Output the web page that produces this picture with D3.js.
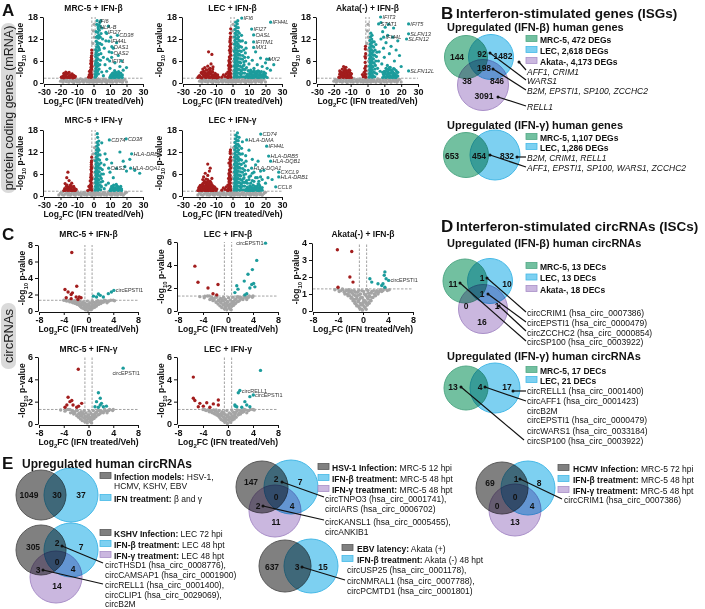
<!DOCTYPE html>
<html><head><meta charset="utf-8">
<script src="https://cdn.jsdelivr.net/npm/d3@7/dist/d3.min.js"></script>
<style>
html,body{margin:0;padding:0;background:#fff;}
svg text{font-family:"Liberation Sans",Arial,Helvetica,sans-serif;}
</style></head>
<body><svg id="fig" width="705" height="609" xmlns="http://www.w3.org/2000/svg"></svg>
<script>
// ---------------- DATA ----------------
const mrnaTitles = ["MRC-5 + IFN-β","LEC + IFN-β","Akata(-) + IFN-β","MRC-5 + IFN-γ","LEC + IFN-γ"];
const circTitles = ["MRC-5 + IFN-β","LEC + IFN-β","Akata(-) + IFN-β","MRC-5 + IFN-γ","LEC + IFN-γ"];
const mrnaXTicks = [-30,-20,-10,0,10,20,30];
const mrnaYTicks = [0,6,12,18];
const circXTicks = [-8,-4,0,4,8];
const c1YTicks = [0,2,4,6,8];
const c2YTicks = [0,2,4,6];
const c3YTicks = [0,1,2,3,4];
const c4YTicks = [0,2,4,6];
const c5YTicks = [0,2,4,6];

const mrnaGrayBeta = [[-20,0.5],[-19,1.0],[-18.5,0.2],[-18,0.7],[-17,1.1],[-16.5,0.4],[-16,0.9],[-15,0.2],[-14.5,0.6],[-14,1.1],[-13,0.4],[-12.5,0.8],[-12,0.1],[-11,0.6],[-10.5,1.0],[-10,0.3],[-9,0.8],[-8.5,0.2],[-8,1.1],[-7,0.5],[-6.5,0.9],[-6,0.2],[-5,0.7],[-4.5,1.1],[-4,0.3],[-3,0.8],[-2.5,0.2],[-2,0.6],[-1.5,1.0],[-1,0.3],[-0.6,0.8],[-0.3,1.5],[0,0.2],[0.3,0.6],[0.6,1.1],[1,0.4],[1.5,0.9],[2,0.2],[2.5,0.7],[3,1.1],[3.5,0.4],[4,0.8],[5,0.2],[5.5,0.6],[6,1.1],[7,0.4],[7.5,0.9],[8,0.1],[9,0.6],[9.5,1.0],[10,0.3],[11,0.8],[11.5,0.2],[12,1.1],[13,0.5],[13.5,0.9],[14,0.2],[15,0.7],[15.5,1.1],[16,0.4],[17,0.9],[17.5,0.2],[18,0.6],[19,1.0],[20,0.3],[-0.5,2.4],[0.4,3.3],[-0.2,4.6],[0.6,6.0],[-0.7,7.5],[0.2,9.0],[-0.4,10.8],[0.5,12.5],[-0.1,14.2],[0.3,16.0]];
const mrnaGrayGamma = [[-21,0.3],[-20,0.8],[-19,0.4],[-18.5,1.1],[-18,0.2],[-17,0.6],[-16,1.0],[-15.5,0.3],[-15,0.8],[-14,0.2],[-13.5,0.6],[-13,1.1],[-12,0.4],[-11.5,0.9],[-11,0.2],[-10,0.7],[-9.5,1.1],[-9,0.4],[-8,0.8],[-7.5,0.1],[-7,0.6],[-6,1.0],[-5.5,0.3],[-5,0.8],[-4,0.2],[-3.5,0.6],[-3,1.1],[-2,0.4],[-1.5,0.8],[-1,0.1],[-0.5,0.6],[0,1.0],[0.4,0.3],[0.8,0.8],[1.2,0.2],[1.8,0.6],[2.4,1.1],[3,0.3],[3.6,0.8],[4.5,0.2],[5,0.6],[6,1.0],[6.5,0.3],[7,0.8],[8,0.2],[8.5,0.6],[9,1.1],[10,0.4],[10.5,0.9],[11,0.2],[12,0.6],[12.5,1.0],[13,0.3],[14,0.8],[14.5,0.2],[15,0.6],[16,1.1],[16.5,0.4],[17,0.8],[18,0.2],[19,0.7],[20,1.0],[-0.6,2.0],[0.5,3.5],[-0.3,5.0],[0.7,6.4],[-0.5,8.0],[0.1,9.8],[-0.2,11.5],[0.6,13.2]];

const a1Down = [[-19,1.5],[-18.5,1.9],[-18,1.4],[-17.5,2.3],[-17,1.7],[-16.5,2.0],[-16,1.5],[-15.5,2.6],[-15,1.8],[-14.5,1.5],[-14,2.2],[-13.5,1.6],[-13,1.9],[-12.5,1.4],[-12,2.1],[-11.5,1.5],[-16.8,3.0],[-14.8,2.9],[-3,1.6],[-2.6,2.2],[-2.2,1.8],[-2,2.8],[-1.8,3.5],[-1.6,2.4],[-1.5,4.2],[-1.4,3.0],[-1.3,5.0],[-1.2,1.7],[-1.1,3.8],[-1.1,5.8],[-1.05,4.5],[-1.05,6.6],[-1.2,7.4],[-1.05,8.2],[-1.1,9.0],[-1.5,6.0],[-2.4,3.2],[-1.7,5.3],[-18,2.6],[-17,2.3],[-16,2.6],[-15,1.5],[-14,1.7],[-13,2.5],[-12,1.5],[-17.5,1.5],[-11,1.8],[-19.5,1.6],[-1.2,2.2],[-1.4,3.6],[-1.3,4.4],[-1.2,5.3],[-1.4,6.3],[-1.3,7.0],[-1.6,1.5],[-1.9,2.0]];
const a1Up = [[1.1,1.6],[1.2,2.4],[1.3,3.2],[1.4,4.0],[1.2,5.0],[1.5,6.0],[1.3,7.2],[1.6,8.3],[1.4,9.1],[1.8,2.0],[2.0,3.0],[2.2,4.4],[2.4,5.5],[2.1,6.8],[2.6,7.6],[2.3,8.8],[2.8,10.0],[2.5,11.0],[3.0,12.2],[3.2,13.0],[3.5,14.4],[4.0,15.5],[4.5,17.0],[3.0,2.5],[3.4,3.8],[3.8,5.0],[4.2,6.2],[3.6,9.0],[4.5,8.0],[5.0,10.5],[5.5,12.0],[6.0,7.0],[6.5,9.5],[7.0,5.0],[7.5,11.5],[8.0,13.5],[8.5,6.5],[9.0,15.5],[9.5,8.5],[10.0,4.0],[10.5,12.5],[11.0,7.0],[12.0,9.5],[13.0,5.5],[14.0,11.0],[15.0,7.5],[16.0,4.5],[17.0,6.0],[18.0,3.5],[20.0,4.2],[5.0,3.0],[6.0,2.0],[8.0,3.2],[2.0,16.0],[1.8,12.5],[1.6,14.0],[10,1.6],[10.5,2.1],[11,1.5],[11.5,2.6],[12,1.8],[12.5,2.3],[13,1.5],[13.5,2.9],[14,2.0],[14.5,1.6],[15,2.4],[15.5,1.5],[16,2.0],[16.5,2.7],[17,1.7],[17.5,2.2],[12.8,3.4],[15.2,3.1],[1.2,1.9],[1.5,2.8],[1.7,3.6],[1.9,4.5],[1.3,5.4],[1.8,6.3],[1.4,7.8],[2.0,8.6],[1.9,9.8],[2.2,10.6],[1.7,11.4],[2.4,12.8],[2.6,13.8],[2.9,14.8],[3.2,15.8],[3.8,16.5],[2.6,3.3],[2.9,4.8],[2.8,6.5],[3.1,7.8],[3.3,9.5],[3.9,10.8],[4.1,12.5],[4.6,13.5],[5.2,15.0],[10.5,1.5],[11.5,1.8],[12.5,1.5],[13.5,1.8],[14.5,2.5],[15.5,2.6],[16.5,1.7],[17.5,1.5],[13,2.4],[11,2.3],[15,1.8],[12,2.8]];
const a1Labels = [["IFI6",2.2,17.0],["HLA-B",2.8,15.3],["IFI27",7.5,13.8],["CD38",14.5,13.0],["IFI44L",9.3,11.4],["OAS1",11.1,9.9],["OAS2",11.1,8.3],["IFIT1",9.8,6.0]];

const a2Down = [[-21,1.5],[-20,2.0],[-19.5,1.6],[-19,2.8],[-18.5,1.4],[-18,2.3],[-17.5,3.2],[-17,1.8],[-16.5,2.6],[-16,1.5],[-15.5,3.6],[-15,2.1],[-14.5,2.9],[-14,1.6],[-13.5,4.0],[-13,2.4],[-12.5,1.7],[-12,3.1],[-11.5,2.0],[-11,1.5],[-10.5,2.6],[-10,1.8],[-9.5,1.4],[-9,2.2],[-8.5,1.6],[-14.5,8.5],[-12.5,7.8],[-13,5.2],[-15,4.6],[-16.8,4.2],[-11.8,4.4],[-18,3.8],[-13.8,3.3],[-12,1.4],[-16,2.0],[-14.8,2.0],[-1.1,1.6],[-1.2,2.6],[-1.3,3.6],[-1.1,4.6],[-1.4,5.6],[-1.2,6.6],[-1.1,7.6],[-1.3,8.6],[-1.2,9.6],[-1.1,10.6],[-1.4,11.6],[-1.2,12.6],[-1.6,2.1],[-1.8,3.1],[-2.0,4.1],[-1.7,5.1],[-2.2,6.1],[-1.9,7.1],[-2.5,2.0],[-2.8,3.0],[-3.2,1.6],[-2.4,4.8],[-1.5,8.2],[-1.6,10.0],[-1.3,13.6],[-1.1,14.8],[-3.8,2.5],[-4.5,1.8],[-5.5,2.2],[-6.5,1.6],[-20.5,1.8],[-19,1.5],[-18.5,2.6],[-17.5,2.0],[-17,2.9],[-16.5,1.6],[-16,2.4],[-15.5,1.7],[-15,2.8],[-14.5,1.6],[-14,2.4],[-13.5,1.5],[-13,3.1],[-12.5,2.3],[-12,1.9],[-11.5,1.6],[-11,2.3],[-10.5,1.5],[-10,2.3],[-9,1.6],[-14,3.8],[-16,3.5],[-18.5,3.0],[-12,3.8],[-1.5,1.9],[-1.7,3.3],[-1.5,4.3],[-1.9,5.5],[-1.6,6.6],[-1.8,8.9],[-1.4,9.3],[-1.6,11.2],[-1.4,12.1],[-2.1,3.8],[-2.3,2.6],[-2.6,1.5]];
const a2Up = [[1.1,1.6],[1.2,2.6],[1.3,3.6],[1.1,4.6],[1.4,5.6],[1.2,6.6],[1.3,7.6],[1.1,8.6],[1.5,9.6],[1.2,10.6],[1.4,11.6],[1.3,12.6],[1.6,13.6],[1.5,14.6],[1.8,15.6],[2.0,16.6],[1.9,2.1],[2.1,3.1],[2.3,4.1],[2.0,5.1],[2.5,6.1],[2.2,7.1],[2.7,8.1],[2.4,9.1],[2.9,10.1],[2.6,11.1],[3.1,12.1],[2.8,13.1],[3.3,14.1],[3.5,15.1],[3.0,1.8],[3.2,2.8],[3.6,3.8],[3.4,4.8],[3.8,5.8],[3.5,6.8],[4.0,7.8],[4.2,8.8],[4.5,10.0],[4.8,11.4],[5.0,2.3],[5.3,3.3],[5.6,4.3],[5.0,5.5],[6.0,6.5],[6.2,7.5],[6.8,9.0],[7.0,1.7],[7.3,2.7],[7.6,3.7],[7.0,5.0],[8.0,6.0],[8.5,4.2],[9.0,2.4],[9.5,7.0],[10.0,5.2],[11.0,3.5],[12.0,6.2],[13.0,4.0],[14.0,8.5],[15.0,5.0],[16.0,3.2],[17.0,6.8],[18.0,4.5],[19.0,3.0],[20.0,5.5],[21.0,4.0],[22.0,6.5],[23.0,3.5],[25.0,5.0],[5.5,13.0],[8.0,11.0],[8,1.5],[9,2.0],[10,1.6],[11,2.4],[12,1.5],[13,2.1],[14,1.7],[15,2.6],[16,1.5],[17,2.2],[18,1.6],[19,2.5],[20,1.8],[12.5,3.0],[15.5,3.3],[10.5,2.8],[17.5,3.1],[14.5,2.0],[11.5,1.8],[18.5,2.0],[21,1.5],[9.5,3.4],[1.3,2.1],[1.5,3.1],[1.7,4.1],[1.6,5.1],[1.8,6.1],[1.7,7.1],[1.9,8.1],[1.8,9.1],[2.1,10.1],[2.0,11.1],[2.3,12.1],[2.2,13.1],[2.5,14.1],[2.6,15.1],[2.9,16.1],[3.2,17.0],[2.6,1.6],[2.9,2.6],[3.0,3.6],[2.8,4.6],[3.1,5.6],[2.9,6.6],[3.3,7.6],[3.1,8.6],[3.6,9.6],[3.4,10.6],[3.9,11.6],[3.7,12.6],[4.1,13.6],[4.3,1.6],[4.5,2.6],[4.4,3.6],[4.7,4.6],[4.5,5.6],[4.9,6.6],[4.7,7.6],[5.3,8.6],[5.5,9.8],[6.0,11.5],[5.8,1.7],[6.1,2.7],[6.3,3.7],[6.6,4.7],[6.9,5.8],[7.4,7.0],[7.8,8.2],[8.2,9.5],[8.5,1.9],[9.5,1.5],[10,2.2],[11,1.5],[11.5,2.5],[12,2.0],[13,1.5],[13.5,2.6],[14,2.2],[15,1.5],[16,2.1],[16.5,2.8],[17,1.6],[18,2.3],[19,1.5],[19.5,2.0],[20,2.6],[13,3.4],[14.5,3.1],[11,3.0]];
const a2Labels = [["IFI6",5.6,17.7],["IFI44L",23.1,16.6],["IFI27",11.6,14.7],["OASL",12.8,13.1],["IFITM1",12.8,11.2],["MX1",12.8,9.7],["MX2",20.7,6.5]];

const a3Down = [[-17,1.6],[-16.5,2.4],[-16,1.8],[-15.5,3.0],[-15,2.0],[-15,3.8],[-14.5,1.5],[-14.5,2.7],[-14,3.3],[-14,1.9],[-13.5,2.3],[-13.5,3.9],[-13,1.6],[-13,2.9],[-12.5,2.0],[-12.5,3.4],[-12,1.5],[-12,2.5],[-11.5,3.0],[-11.5,1.8],[-11,2.2],[-11,3.6],[-10.5,1.6],[-10.5,2.8],[-10,2.0],[-9.5,1.5],[-9.5,2.5],[-16,2.9],[-12.8,4.3],[-14.2,4.5],[-1.1,1.6],[-1.3,2.4],[-1.2,3.4],[-1.1,4.6],[-1.4,5.6],[-1.2,6.8],[-1.1,8.0],[-1.3,9.3],[-1.2,10.0],[-1.7,2.0],[-2.0,2.9],[-1.6,4.0],[-2.5,1.7],[-3.0,2.3],[-1.5,7.2],[-16.5,1.5],[-15.5,1.7],[-15.5,2.5],[-14,2.5],[-13,2.2],[-12,3.2],[-11,1.5],[-10,2.6],[-16.5,3.3],[-10.5,3.4],[-12.5,1.5],[-13.5,3.1]];
const a3Up = [[1.1,1.6],[1.2,2.6],[1.3,3.6],[1.1,4.6],[1.4,5.6],[1.2,6.6],[1.3,7.6],[1.5,8.6],[1.2,9.6],[1.6,10.6],[1.4,11.6],[1.8,12.6],[2.0,13.6],[1.7,2.1],[2.0,3.1],[2.2,4.1],[1.9,5.1],[2.4,6.1],[2.1,7.1],[2.6,8.1],[2.3,9.1],[2.8,10.1],[3.0,11.3],[3.3,2.0],[3.6,3.0],[3.2,4.4],[3.9,5.4],[3.5,6.6],[4.2,7.6],[4.5,9.0],[5.0,10.5],[5.5,2.5],[6.0,4.0],[6.5,6.0],[7.0,8.5],[7.5,3.2],[8.0,12.0],[8.5,5.2],[9.0,14.0],[9.5,9.5],[10.0,7.0],[11.0,11.0],[12.0,13.0],[13.0,8.0],[14.0,10.0],[15.0,12.5],[16.0,6.0],[17.0,9.0],[18.0,11.5],[19.0,7.5],[20.0,4.5],[12.5,16.0],[15.5,15.0],[8.0,16.5],[10.5,15.2],[9,1.5],[9.5,2.3],[10,1.8],[10,3.2],[10.5,2.6],[11,1.5],[11,4.0],[11.5,2.2],[12,3.0],[12,1.7],[12.5,2.5],[13,1.5],[13,3.6],[13.5,2.0],[14,2.8],[14,1.6],[14.5,3.4],[15,2.2],[15,1.5],[15.5,2.7],[16,1.8],[16,3.8],[16.5,2.3],[17,1.5],[17.5,2.9],[18,1.9],[13.5,4.3],[11.8,4.8],[1.5,2.0],[1.7,3.0],[1.6,4.0],[1.8,5.0],[1.7,6.0],[1.9,7.0],[1.8,8.0],[2.0,9.0],[2.2,10.0],[2.4,11.0],[2.5,12.0],[2.7,13.0],[2.8,1.6],[2.7,2.6],[2.9,3.6],[2.8,4.6],[3.0,5.6],[3.1,6.6],[3.3,7.6],[3.4,8.6],[3.7,9.8],[4.0,11.2],[4.3,1.7],[4.5,2.8],[4.4,3.8],[4.7,4.8],[4.9,6.0],[5.3,7.2],[5.6,8.4],[9,2.9],[10.5,1.6],[11,3.2],[12,2.3],[12.5,3.6],[13.5,2.8],[14,3.6],[14.5,1.6],[15,3.0],[16,2.5],[16.5,1.5],[17,3.4],[17.5,2.0],[18,2.9],[10,2.5],[11.5,3.8],[13,4.2],[15.5,3.9]];
const a3Labels = [["IFIT3",7.8,18.0],["STAT1",6.6,16.1],["IFIT5",24.4,16.1],["IFI44L",9.6,12.5],["SLFN13",24.4,13.4],["SLFN12",23.2,12.0],["SLFN12L",24.4,3.3]];

const a4Down = [[-18,1.5],[-17.5,2.0],[-17,1.6],[-16.5,2.6],[-16,1.8],[-15.5,1.5],[-15,2.3],[-14.5,1.7],[-14,3.0],[-13.5,1.9],[-13,1.5],[-12.5,2.4],[-12,1.7],[-11.5,2.1],[-11,1.5],[-10.5,1.8],[-15.5,6.5],[-16.2,5.0],[-14.8,4.2],[-17.2,3.4],[-13.2,3.5],[-1.1,1.6],[-1.2,2.6],[-1.3,3.6],[-1.1,4.6],[-1.4,5.6],[-1.2,6.6],[-1.1,7.6],[-1.3,8.6],[-1.2,9.6],[-1.1,10.6],[-1.6,2.1],[-1.8,3.1],[-2.0,4.1],[-1.7,5.1],[-2.3,1.8],[-2.8,2.6],[-3.5,1.5],[-1.5,7.2],[-17.5,1.5],[-16.5,1.7],[-15.5,2.4],[-14.5,2.5],[-13.5,2.6],[-12.5,1.6],[-11.5,1.5],[-16,3.0],[-12,2.6],[-14,1.5],[-1.5,1.8],[-1.4,3.0],[-1.6,4.2],[-1.3,5.0],[-1.5,6.0],[-1.4,8.0],[-1.3,9.2],[-1.9,2.5]];
const a4Up = [[1.1,1.6],[1.2,2.6],[1.3,3.6],[1.1,4.6],[1.4,5.6],[1.2,6.6],[1.3,7.6],[1.5,8.6],[1.2,9.6],[1.6,10.6],[1.4,11.6],[1.8,12.6],[2.0,13.6],[2.2,14.6],[2.5,16.0],[2.3,17.0],[1.7,2.1],[2.0,3.1],[2.2,4.1],[1.9,5.1],[2.4,6.1],[2.1,7.1],[2.6,8.1],[2.3,9.1],[2.8,10.1],[3.0,11.3],[3.3,12.5],[3.3,2.0],[3.6,3.0],[3.2,4.4],[3.9,5.4],[3.5,6.6],[4.2,7.6],[4.5,9.0],[4.8,2.5],[5.5,4.0],[6.0,6.0],[6.5,8.5],[7.0,11.5],[5.0,14.5],[8.0,10.0],[9.0,3.5],[10.0,6.5],[11.0,9.0],[12.0,5.0],[14.0,7.5],[16.0,12.0],[18.0,9.5],[19.0,8.0],[20.0,6.8],[22.0,10.0],[25.0,7.0],[28.0,6.2],[6.5,2.0],[7.5,3.0],[10,1.5],[10.5,2.0],[11,1.6],[11.5,2.5],[12,1.8],[12.5,1.5],[13,2.2],[13.5,1.7],[14,2.8],[14.5,1.9],[15,1.5],[15.5,2.3],[16,1.7],[16.5,2.6],[17,1.5],[13.8,3.2],[12.2,3.0],[1.5,2.0],[1.7,3.0],[1.6,4.0],[1.8,5.0],[1.7,6.0],[1.9,7.0],[1.8,8.0],[2.0,9.0],[2.2,10.0],[2.4,11.0],[2.5,12.0],[2.7,13.0],[2.9,14.0],[3.2,15.0],[2.8,1.6],[2.7,2.6],[2.9,3.6],[2.8,4.6],[3.0,5.6],[3.1,6.6],[3.3,7.6],[3.4,8.6],[3.7,9.8],[4.0,11.2],[4.3,1.7],[4.5,2.8],[4.4,3.8],[4.7,4.8],[4.9,6.0],[5.3,7.2],[10.5,1.6],[11.5,1.8],[12.5,2.2],[13,1.6],[14,1.9],[15,2.4],[16,2.3],[17,1.9],[11,2.6],[14.5,2.6]];
const a4Labels = [["CD74",9.6,15.3],["CD38",19.8,15.6],["HLA-DRB5",23.1,11.5],["OAS2",9.2,7.6],["HLA-DQA1",22.5,7.6]];

const a5Down = [[-21,1.5],[-20.5,2.2],[-20,1.7],[-19.5,2.9],[-19,1.5],[-18.5,2.4],[-18,3.4],[-18,1.8],[-17.5,2.7],[-17,1.5],[-17,4.0],[-16.5,2.1],[-16,3.0],[-16,1.6],[-15.5,3.7],[-15.5,2.4],[-15,1.8],[-15,4.5],[-14.5,2.8],[-14.5,1.5],[-14,3.4],[-14,2.1],[-13.5,1.7],[-13.5,4.0],[-13,2.6],[-13,1.5],[-12.5,3.1],[-12,2.0],[-12,1.5],[-11.5,2.5],[-11,1.7],[-10.5,2.2],[-10,1.5],[-9.5,1.9],[-15,5.6],[-14,6.8],[-16.5,6.2],[-15,8.7],[-13.5,7.6],[-17.5,5.2],[-12.5,4.8],[-1.1,1.6],[-1.2,2.6],[-1.3,3.6],[-1.1,4.6],[-1.4,5.6],[-1.2,6.6],[-1.1,7.6],[-1.3,8.6],[-1.2,9.6],[-1.1,10.6],[-1.4,11.6],[-1.2,12.6],[-1.6,2.1],[-1.8,3.1],[-2.0,4.1],[-1.7,5.1],[-2.2,6.1],[-1.9,7.1],[-2.5,2.0],[-2.8,3.0],[-3.2,1.6],[-2.4,4.8],[-1.5,8.2],[-1.6,10.0],[-3.8,2.5],[-4.5,1.8],[-5.5,2.2],[-6.5,1.6],[-2.2,9.0],[-20.5,1.5],[-20,2.5],[-19.5,2.0],[-19,2.4],[-18.5,1.5],[-18.5,3.0],[-17.5,1.8],[-17.5,3.5],[-17,2.5],[-16.5,1.6],[-16.5,3.5],[-16,2.3],[-15.5,1.5],[-15,2.5],[-15,3.3],[-14.5,2.2],[-14.5,4.0],[-14,1.6],[-14,2.8],[-13.5,2.3],[-13.5,3.2],[-13,2.0],[-13,3.6],[-12.5,1.7],[-12.5,2.5],[-12,2.8],[-11.5,1.5],[-11,2.5],[-16,4.6],[-18,4.5],[-1.5,1.9],[-1.7,3.3],[-1.5,4.3],[-1.9,5.5],[-1.6,6.6],[-1.4,9.3],[-1.4,12.1],[-2.1,3.8],[-2.3,2.6],[-2.6,1.5]];
const a5Up = [[1.1,1.6],[1.2,2.6],[1.3,3.6],[1.1,4.6],[1.4,5.6],[1.2,6.6],[1.3,7.6],[1.1,8.6],[1.5,9.6],[1.2,10.6],[1.4,11.6],[1.3,12.6],[1.6,13.6],[1.5,14.6],[1.8,15.6],[2.0,16.6],[1.9,2.1],[2.1,3.1],[2.3,4.1],[2.0,5.1],[2.5,6.1],[2.2,7.1],[2.7,8.1],[2.4,9.1],[2.9,10.1],[2.6,11.1],[3.1,12.1],[2.8,13.1],[3.3,14.1],[3.5,15.1],[3.0,1.8],[3.2,2.8],[3.6,3.8],[3.4,4.8],[3.8,5.8],[3.5,6.8],[4.0,7.8],[4.2,8.8],[4.5,10.0],[4.8,11.4],[5.0,2.3],[5.3,3.3],[5.6,4.3],[5.0,5.5],[6.0,6.5],[6.2,7.5],[6.8,9.0],[7.0,1.7],[7.3,2.7],[7.6,3.7],[7.0,5.0],[8.0,6.0],[8.5,4.2],[9.0,2.4],[9.5,7.0],[10.0,5.2],[11.0,3.5],[12.0,6.2],[13.0,4.0],[14.0,8.5],[15.0,5.0],[16.0,3.2],[17.0,6.8],[18.0,4.5],[5.5,13.0],[8.0,11.0],[4.0,16.0],[6.0,14.8],[10.0,12.5],[12.0,10.0],[15.5,9.5],[19.0,7.0],[21.5,5.0],[8,1.5],[9,2.0],[10,1.6],[11,2.4],[12,1.5],[13,2.1],[14,1.7],[15,2.6],[16,1.5],[17,2.2],[18,1.6],[12.5,3.0],[15.5,3.3],[10.5,2.8],[14.5,2.0],[11.5,1.8],[1.3,2.1],[1.5,3.1],[1.7,4.1],[1.6,5.1],[1.8,6.1],[1.7,7.1],[1.9,8.1],[1.8,9.1],[2.1,10.1],[2.0,11.1],[2.3,12.1],[2.2,13.1],[2.5,14.1],[2.6,15.1],[2.9,16.1],[3.0,17.2],[2.6,1.6],[2.9,2.6],[3.0,3.6],[2.8,4.6],[3.1,5.6],[2.9,6.6],[3.3,7.6],[3.1,8.6],[3.6,9.6],[3.4,10.6],[3.9,11.6],[3.7,12.6],[4.1,13.6],[4.3,1.6],[4.5,2.6],[4.4,3.6],[4.7,4.6],[4.5,5.6],[4.9,6.6],[4.7,7.6],[5.3,8.6],[5.5,9.8],[6.0,11.5],[5.8,1.7],[6.1,2.7],[6.3,3.7],[6.6,4.7],[6.9,5.8],[7.4,7.0],[7.8,8.2],[8.2,9.5],[9,3.5],[10,4.5],[11,5.5],[12,4.2],[13,6.5],[14,5.0],[16,4.0],[17,5.2],[20,3.5],[24,4.5],[8.5,1.9],[9.5,1.5],[10,2.2],[11,1.5],[11.5,2.5],[12,2.0],[13,1.5],[13.5,2.6],[14,2.2],[15,1.5],[16,2.1],[16.5,2.8],[17,1.6],[18,2.3]];
const a5Labels = [["CD74",17.1,16.9],["HLA-DMA",8.6,15.3],["IFI44L",20.7,13.6],["HLA-DRB5",21.9,10.9],["HLA-DQB1",23.1,9.5],["HLA-DQA1",11.6,7.6],["CXCL9",28.0,6.5],["HLA-DRB1",28.0,5.2],["CCL8",26.2,2.5]];

const circGray1 = [[-4,1.3],[-3.5,1.2],[-3.2,1.25],[-3,1.1],[-2.7,1.2],[-2.5,1.0],[-2.3,1.25],[-2.1,0.9],[-2,1.15],[-1.8,0.8],[-1.7,1.05],[-1.5,0.7],[-1.4,1.2],[-1.3,0.55],[-1.2,0.9],[-1.1,0.4],[-1,0.75],[-0.9,1.1],[-0.8,0.3],[-0.7,0.6],[-0.6,0.95],[-0.5,0.15],[-0.4,0.45],[-0.3,0.8],[-0.2,1.2],[-0.1,0.05],[0,0.35],[0.1,0.65],[0.2,1.0],[0.3,0.2],[0.4,0.5],[0.5,0.9],[0.6,1.25],[0.7,0.35],[0.8,0.7],[0.9,1.05],[1,0.45],[1.1,0.85],[1.3,0.6],[1.4,1.15],[1.6,0.8],[1.8,1.0],[2,0.9],[2.2,1.2],[2.5,1.1],[2.8,1.25],[3.2,1.2],[3.6,1.3],[4.2,1.25]];
const circGray2 = [[-4.5,1.25],[-3.8,1.15],[-3.3,1.3],[-2.9,1.0],[-2.6,1.2],[-2.4,0.9],[-2.2,1.1],[-1.9,0.75],[-1.8,1.2],[-1.6,0.6],[-1.5,0.95],[-1.3,0.45],[-1.2,1.1],[-1.1,0.7],[-1.0,0.3],[-0.9,0.9],[-0.8,0.55],[-0.7,1.2],[-0.6,0.2],[-0.5,0.7],[-0.4,1.0],[-0.3,0.35],[-0.2,0.1],[-0.1,0.8],[0,0.5],[0.1,1.15],[0.2,0.25],[0.3,0.6],[0.4,0.95],[0.5,0.1],[0.6,0.4],[0.7,0.8],[0.8,1.2],[0.9,0.5],[1,0.9],[1.2,0.65],[1.3,1.05],[1.5,0.8],[1.7,1.2],[1.9,0.95],[2.1,1.1],[2.4,1.0],[2.7,1.2],[3.0,1.15],[3.4,1.3],[3.9,1.2]];
const circGray3 = [[-3.7,1.28],[-3.0,1.3],[-2.6,1.05],[-2.2,0.95],[-1.9,1.25],[-1.6,0.9],[-1.3,0.8],[-1.0,1.0],[-0.8,0.9],[-0.6,0.5],[-0.4,0.25],[-0.2,0.6],[0,0.8],[0.2,0.45],[0.4,0.15],[0.6,0.7],[0.8,0.5],[1.0,0.7],[1.2,1.0],[1.5,1.25],[1.7,0.85],[2.0,1.2],[2.3,1.05],[2.6,1.3],[3.0,1.0],[3.3,1.2],[4.0,1.3]];
const c1Down = [[-3.8,2.6],[-3.3,2.3],[-2.8,2.0],[-1.9,3.0],[-2.6,2.2],[-3.6,1.6],[-2.8,1.5],[-2.0,1.7],[-1.7,1.4],[-1.5,1.7],[-1.2,1.6],[-2.7,7.1]];
const c1Up = [[0.8,1.8],[1.3,1.7],[1.6,2.06],[1.9,1.9],[2.4,1.7],[3.2,2.1],[3.7,2.3]];
const c1Labels = [["circEPSTI1",4.1,2.5]];
const c2Down = [[-5.3,3.9],[-4.8,2.5],[-3.2,2.0],[-1.6,2.3],[-2.4,1.5],[-1.8,1.4]];
const c2Up = [[1.1,1.6],[1.6,1.9],[2.7,1.4],[3.0,1.5],[3.5,2.0],[3.8,2.3],[4.1,2.4],[4.3,2.1],[3.2,3.2],[3.9,3.6],[4.6,4.4],[2.6,2.6],[1.4,2.2]];
const c2Labels = [["circEPSTI1",6.0,5.9]];
const c3Down = [[-4.0,1.4],[-2.1,2.0],[-1.6,1.7],[-4.1,3.6],[-1.8,3.5]];
const c3Up = [[1.1,1.9],[1.4,1.7],[2.4,1.6],[3.0,1.5],[3.2,1.6],[3.5,1.4],[3.7,1.9],[3.4,2.1],[3.5,2.3]];
const c3Labels = [["circEPSTI1",4.1,1.8]];
const c4Down = [[-1.65,4.9],[-3.3,2.4],[-2.7,2.1],[-3.5,1.7],[-2.5,1.7],[-1.6,1.6],[-1.1,1.85],[-3.0,2.0],[-1.9,1.5],[-3.8,1.5]];
const c4Up = [[1.6,2.8],[1.9,2.3],[1.3,2.0],[2.1,1.85],[1.05,1.55],[1.6,1.5],[2.4,1.55],[2.9,1.6],[1.9,1.7]];
const c4Labels = [["circEPSTI1",5.6,5.0]];
const c5Down = [[-5.55,4.2],[-5.55,2.3],[-5.3,2.1],[-4.5,1.85],[-3.4,1.9],[-2.35,1.8],[-1.55,1.7],[-3.95,1.6],[-4.75,1.55],[-2.9,1.5],[-1.55,2.15]];
const c5Up = [[5.2,4.8],[3.5,2.45],[2.7,2.0],[3.0,1.7],[1.1,1.7],[1.4,1.55],[3.5,1.55],[2.2,1.5],[1.65,2.8],[1.2,1.6]];
const c5Labels = [["circRELL1",1.9,3.0],["circEPSTI1",4.05,2.6]];

// Venn data
const bBetaLegend = ["MRC-5, 472 DEGs","LEC, 2,618 DEGs","Akata-, 4,173 DEGs"];
const bBetaCounts = [144,92,1482,198,38,846,3091];
const bBetaGenes = ["AFF1, CRIM1","WARS1","B2M, EPSTI1, SP100, ZCCHC2","RELL1"];
const bGammaLegend = ["MRC-5, 1,107 DEGs","LEC, 1,286 DEGs"];
const bGammaCounts = [653,454,832];
const bGammaGenes = ["B2M, CRIM1, RELL1","AFF1, EPSTI1, SP100, WARS1, ZCCHC2"];
const dBetaLegend = ["MRC-5, 13 DECs","LEC, 13 DECs","Akata-, 18 DECs"];
const dBetaCounts = [11,1,10,1,0,1,16];
const dBetaCircs = ["circCRIM1 (hsa_circ_0007386)","circEPSTI1 (hsa_circ_0000479)","circZCCHC2 (hsa_circ_0000854)","circSP100 (hsa_circ_0003922)"];
const dGammaLegend = ["MRC-5, 17 DECs","LEC, 21 DECs"];
const dGammaCounts = [13,4,17];
const dGammaCircs = ["circRELL1 (hsa_circ_0001400)","circAFF1 (hsa_circ_0001423)","circB2M","circEPSTI1 (hsa_circ_0000479)","circWARS1 (hsa_circ_0033184)","circSP100 (hsa_circ_0003922)"];
const e1Legend = [["Infection models:"," HSV-1,"],[""," HCMV, KSHV, EBV"],["IFN treatment:"," β and γ"]];
const e1Counts = [1049,30,37];
const e2Legend = [["KSHV Infection:"," LEC 72 hpi"],["IFN-β treatment:"," LEC 48 hpt"],["IFN-γ treatment:"," LEC 48 hpt"]];
const e2Counts = [305,2,7,0,3,4,14];
const e2Circs = ["circTHSD1 (hsa_circ_0008776),","circCAMSAP1 (hsa_circ_0001900)","circRELL1 (hsa_circ_0001400),","circCLIP1 (hsa_circ_0029069),","circB2M"];
const e3Legend = [["HSV-1 Infection:"," MRC-5 12 hpi"],["IFN-β treatment:"," MRC-5 48 hpt"],["IFN-γ treatment:"," MRC-5 48 hpt"]];
const e3Counts = [147,2,7,0,2,4,11];
const e3Circs = ["circTNPO3 (hsa_circ_0001741),","circIARS (hsa_circ_0006702)","circKANSL1 (hsa_circ_0005455),","circANKIB1"];
const e4Legend = [["EBV latency:"," Akata (+)"],["IFN-β treatment:"," Akata (-) 48 hpt"]];
const e4Counts = [637,3,15];
const e4Circs = ["circUSP25 (hsa_circ_0001178),","circNMRAL1 (hsa_circ_0007788),","circPCMTD1 (hsa_circ_0001801)"];
const e5Legend = [["HCMV Infection:"," MRC-5 72 hpi"],["IFN-β treatment:"," MRC-5 48 hpt"],["IFN-γ treatment:"," MRC-5 48 hpt"]];
const e5Counts = [69,1,8,0,0,4,13];
const e5Circs = ["circCRIM1 (hsa_circ_0007386)"];

// ---------------- DRAWING ----------------
const svg = d3.select('#fig');
const F = '"Liberation Sans",Arial,Helvetica,sans-serif';
const PT = {up:'#1c9c9c', down:'#a21d1d', gray:'#a5a5a5'};
const VC = {
  green:{f:'#72c0a0',s:'#52a886'},
  blue:{f:'#7dd0f1',s:'#45b8e6'},
  purple:{f:'#cab7df',s:'#a98fc8'},
  gray:{f:'#808080',s:'#595959'}
};

function txt(x,y,s,o={}){
  const t = svg.append('text').attr('x',x).attr('y',y).text(s)
    .attr('font-size',o.size||9).attr('fill',o.fill||'#111');
  if(o.bold) t.attr('font-weight','bold');
  if(o.italic) t.attr('font-style','italic');
  if(o.anchor) t.attr('text-anchor',o.anchor);
  return t;
}
function rich(x,y,parts,size){
  const t = svg.append('text').attr('x',x).attr('y',y).attr('font-size',size).attr('fill','#111');
  parts.forEach(p=>{ const s=t.append('tspan').text(p[0]); if(p[1]) s.attr('font-weight','bold'); });
  return t;
}

function volcano(c){
  const g = svg.append('g');
  const x = d3.scaleLinear().domain(c.xd).range(c.xr);
  const y = d3.scaleLinear().domain(c.yd).range(c.yr);
  const dash = g.append('g').attr('stroke','#8c8c8c').attr('stroke-width',0.8).attr('stroke-dasharray','2.5,1.5');
  dash.append('line').attr('x1',x(c.xd[0])).attr('x2',x(c.xd[1])).attr('y1',y(1.3)).attr('y2',y(1.3));
  [-c.fc,c.fc].forEach(v=>dash.append('line').attr('x1',x(v)).attr('x2',x(v)).attr('y1',y(c.yd[0])).attr('y2',y(c.yd[1])));
  const pts=(arr,col)=>g.append('g').selectAll('circle').data(arr).join('circle')
    .attr('cx',d=>x(d[0])).attr('cy',d=>y(d[1])).attr('r',c.r).attr('fill',col);
  pts(c.gray,PT.gray); pts(c.down,PT.down); pts(c.up,PT.up);
  pts(c.labels.map(l=>[l[1],l[2]]),PT.up);
  c.labels.forEach((l,i)=>{
    const side = (c.side && c.side[i]) || 'R';
    const px=x(l[1]), py=y(l[2]);
    let t;
    if(side==='R') t=g.append('text').attr('x',px+1.8).attr('y',py+2);
    else if(side==='L') t=g.append('text').attr('x',px-1.8).attr('y',py+2).attr('text-anchor','end');
    else t=g.append('text').attr('x',px+3).attr('y',py+7).attr('text-anchor','middle');
    t.text(l[0]).attr('font-size',c.lsize).attr('fill','#333').attr('font-style',c.italic?'italic':'normal');
  });
  const ya = g.append('g').attr('transform',`translate(${c.xr[0]-1},0)`)
    .call(d3.axisLeft(y).tickValues(c.yt).tickSize(3).tickSizeOuter(0).tickPadding(2).tickFormat(d=>String(d)));
  const xa = g.append('g').attr('transform',`translate(0,${c.yr[0]+1})`)
    .call(d3.axisBottom(x).tickValues(c.xt).tickSize(3).tickSizeOuter(0).tickPadding(1.5).tickFormat(d=>String(d)));
  [ya,xa].forEach(a=>{
    a.selectAll('text').attr('font-size',9).attr('font-weight','bold').attr('font-family',F).attr('fill','#111');
    a.selectAll('path,line').attr('stroke','#111').attr('stroke-width',1);
  });
  const mx=(c.xr[0]+c.xr[1])/2, my=(c.yr[0]+c.yr[1])/2;
  txt(mx,c.titleY,c.title,{size:8.5,bold:true,anchor:'middle'});
  const yl = g.append('text').attr('transform',`translate(${c.ylx},${my}) rotate(-90)`)
    .attr('text-anchor','middle').attr('font-size',8.5).attr('font-weight','bold').attr('fill','#111');
  yl.append('tspan').text('-log');
  yl.append('tspan').text('10').attr('font-size',6).attr('dy',2.5);
  yl.append('tspan').text(' p-value').attr('dy',-2.5);
  const xl = g.append('text').attr('x',mx).attr('y',c.yr[0]+21).attr('text-anchor','middle')
    .attr('font-size',8.5).attr('font-weight','bold').attr('fill','#111');
  xl.append('tspan').text('Log');
  xl.append('tspan').text('2').attr('font-size',6).attr('dy',2.5);
  xl.append('tspan').text('FC (IFN treated/Veh)').attr('dy',-2.5);
}

const mBase = {xd:[-30,30], yd:[0,18], xt:mrnaXTicks, yt:mrnaYTicks, fc:1, r:1.6, lsize:5.6, italic:true};
volcano({...mBase, title:mrnaTitles[0], gray:mrnaGrayBeta, down:a1Down, up:a1Up, labels:a1Labels, xr:[44,143], yr:[83,17], titleY:11, ylx:23});
volcano({...mBase, title:mrnaTitles[1], gray:mrnaGrayBeta, down:a2Down, up:a2Up, labels:a2Labels, xr:[183,282], yr:[83,17], titleY:11, ylx:162});
volcano({...mBase, title:mrnaTitles[2], gray:mrnaGrayBeta, down:a3Down, up:a3Up, labels:a3Labels, xr:[317,418], yr:[83,17], titleY:11, ylx:297});
volcano({...mBase, title:mrnaTitles[3], gray:mrnaGrayGamma, down:a4Down, up:a4Up, labels:a4Labels, xr:[44,143], yr:[196,130], titleY:123, ylx:23});
volcano({...mBase, title:mrnaTitles[4], gray:mrnaGrayGamma, down:a5Down, up:a5Up, labels:a5Labels, xr:[183,282], yr:[196,130], titleY:123, ylx:162});

const cBase = {xd:[-8,8], xt:circXTicks, fc:0.58, r:1.7, lsize:5.5, italic:false};
volcano({...cBase, title:circTitles[0], yd:[0,8], yt:c1YTicks, gray:circGray1.concat(circGray3), down:c1Down, up:c1Up, labels:c1Labels, xr:[39,138], yr:[311,245], titleY:237, ylx:25});
volcano({...cBase, title:circTitles[1], yd:[0,6], yt:c2YTicks, gray:circGray2.concat(circGray3), down:c2Down, up:c2Up, labels:c2Labels, side:['L'], xr:[178,278], yr:[311,242], titleY:237, ylx:164});
volcano({...cBase, title:circTitles[2], yd:[0,4], yt:c3YTicks, gray:circGray1.concat(circGray2), down:c3Down, up:c3Up, labels:c3Labels, xr:[313,413], yr:[311,243], titleY:237, ylx:299});
volcano({...cBase, title:circTitles[3], yd:[0,6], yt:c4YTicks, gray:circGray2.concat(circGray3), down:c4Down, up:c4Up, labels:c4Labels, side:['B'], xr:[39,138], yr:[424,357], titleY:352, ylx:25});
volcano({...cBase, title:circTitles[4], yd:[0,6], yt:c5YTicks, gray:circGray1.concat(circGray3), down:c5Down, up:c5Up, labels:c5Labels, xr:[178,278], yr:[424,357], titleY:352, ylx:164});

// side labels
function sideLabel(cy,h,s,fs){
  svg.append('rect').attr('x',1).attr('y',cy-h/2).attr('width',15).attr('height',h).attr('rx',7).attr('fill','#dadada');
  svg.append('text').attr('transform',`translate(13,${cy}) rotate(-90)`).attr('text-anchor','middle')
    .attr('font-size',fs).attr('fill','#222').text(s);
}
sideLabel(108,170,'protein coding genes (mRNA)',12.5);
sideLabel(336,66,'circRNAs',13);

// panel letters
txt(2,16,'A',{size:17,bold:true});
txt(2,240,'C',{size:17,bold:true});
txt(441,19,'B',{size:17,bold:true});
txt(441,232,'D',{size:17,bold:true});
txt(2,469,'E',{size:17,bold:true});

// Venn helpers
function circ(cx,cy,r,col){
  svg.append('circle').attr('cx',cx).attr('cy',cy).attr('r',r).attr('fill',col.f)
    .attr('stroke',col.s).attr('stroke-width',1).style('mix-blend-mode','multiply');
}
function nums(vals,pos,size){ vals.forEach((v,i)=>txt(pos[i][0],pos[i][1]+3,String(v),{size:size||8.5,bold:true,anchor:'middle'})); }
function swatch(x,y,col){ svg.append('rect').attr('x',x).attr('y',y-3.5).attr('width',11).attr('height',6).attr('fill',col.f).attr('stroke',col.s).attr('stroke-width',0.8); }
function leader(x1,y1,x2,y2){
  svg.append('line').attr('x1',x1).attr('y1',y1).attr('x2',x2).attr('y2',y2).attr('stroke','#111').attr('stroke-width',1.2);
  svg.append('circle').attr('cx',x1).attr('cy',y1).attr('r',1.5).attr('fill','#111');
}

// ---- B
txt(456,18,'Interferon-stimulated genes (ISGs)',{size:13.5,bold:true});
txt(447,31,'Upregulated (IFN-β) human genes',{size:11,bold:true});
circ(466,57,21.5,VC.green); circ(491,57,22.5,VC.blue); circ(483,85,25.5,VC.purple);
nums(bBetaCounts,[[457,57],[482,54],[503,56],[484,68],[467,81],[497,81],[484,96]]);
[VC.green,VC.blue,VC.purple].forEach((c,i)=>{swatch(526,[39,50,61][i],c); txt(540,[42.5,53.5,64.5][i],bBetaLegend[i],{size:8.5,bold:true});});
[75,84,94,110].forEach((yy,i)=>txt(527,yy,bBetaGenes[i],{size:8.5,italic:true}));
leader(519,62,526,70); leader(490,53,526,80); leader(493,69,526,90); leader(498,97,526,106);

txt(447,129,'Upregulated (IFN-γ) human genes',{size:11,bold:true});
circ(466,155,22.5,VC.green); circ(495,155,25,VC.blue);
nums(bGammaCounts,[[452,156],[479,156],[507,156]]);
[VC.green,VC.blue].forEach((c,i)=>{swatch(526,[137,147][i],c); txt(540,[140.5,150.5][i],bGammaLegend[i],{size:8.5,bold:true});});
[160.5,171].forEach((yy,i)=>txt(527,yy,bGammaGenes[i],{size:8.5,italic:true}));
leader(517,157,526,157); leader(490,155,526,167);

// ---- D
txt(456,231,'Interferon-stimulated circRNAs (ISCs)',{size:13.5,bold:true});
txt(447,247,'Upregulated (IFN-β) human circRNAs',{size:11,bold:true});
circ(465,281,22,VC.green); circ(490,281,22.5,VC.blue); circ(483,309,24.5,VC.purple);
nums(dBetaCounts,[[453,284],[482,278],[507,284],[482,294],[466,306],[497,306],[482,322]]);
[VC.green,VC.blue,VC.purple].forEach((c,i)=>{swatch(526,[266,277.5,289][i],c); txt(540,[269.5,281,292.5][i],dBetaLegend[i],{size:8.5,bold:true});});
[316,326,335.5,345].forEach((yy,i)=>txt(527,yy,dBetaCircs[i],{size:8.5}));
leader(487,278,526,312); leader(488,294,526,322); leader(499,306,526,331); leader(460,283,526,341);

txt(447,360,'Upregulated (IFN-γ) human circRNAs',{size:11,bold:true});
circ(466,388,22,VC.green); circ(495,388,25,VC.blue);
nums(dGammaCounts,[[453,387],[480,387],[507,387]]);
[VC.green,VC.blue].forEach((c,i)=>{swatch(526,[370,380][i],c); txt(540,[373.5,383.5][i],dGammaLegend[i],{size:8.5,bold:true});});
[394,404,413.5,423,433.5,443.5].forEach((yy,i)=>txt(527,yy,dGammaCircs[i],{size:8.5}));
leader(513,391,526,391); leader(485,387,526,401); leader(461,387,524,440);

// ---- E
txt(22,468,'Upregulated human circRNAs',{size:12,bold:true});
circ(41,495,25,VC.gray); circ(71,495,27,VC.blue);
nums(e1Counts,[[29,495],[57,495],[81,495]]);
swatch(100,476,VC.gray); swatch(100,498,VC.blue);
[479.5,489,501.5].forEach((yy,i)=>rich(114,yy,[[e1Legend[i][0],true],[e1Legend[i][1],false]],8.5));

circ(41,550,25,VC.gray); circ(71,550,27,VC.blue); circ(56,577,26,VC.purple);
nums(e2Counts,[[33,547],[57,543],[81,547],[57,562],[38,570],[73,569],[57,586]]);
[VC.gray,VC.blue,VC.purple].forEach((c,i)=>{swatch(100,[533,544,555][i],c); rich(114,[536.5,547.5,558.5][i],[[e2Legend[i][0],true],[e2Legend[i][1],false]],8.5);});
[568,578,588,598,607].forEach((yy,i)=>txt(105,yy,e2Circs[i],{size:8.5}));
leader(62,546,103,563); leader(43,570,103,584);

circ(262,487,26,VC.gray); circ(291,487,27,VC.blue); circ(275,511,26,VC.purple);
nums(e3Counts,[[251,482],[276,479],[300,482],[276,497],[258,506],[292,506],[276,522]]);
[VC.gray,VC.blue,VC.purple].forEach((c,i)=>{swatch(318,[467,478,489][i],c); rich(332,[470.5,481.5,492.5][i],[[e3Legend[i][0],true],[e3Legend[i][1],false]],8.5);});
[502,512,525,535].forEach((yy,i)=>txt(325,yy,e3Circs[i],{size:8.5}));
leader(282,482,324,497); leader(263,506,324,520);

circ(285,566,26,VC.gray); circ(311,566,27,VC.blue);
nums(e4Counts,[[272,567],[297,567],[323,567]]);
[VC.gray,VC.blue].forEach((c,i)=>{swatch(342,[548,559][i],c); rich(357,[551.5,562.5][i],[[e4Legend[i][0],true],[e4Legend[i][1],false]],8.5);});
[573,584,594].forEach((yy,i)=>txt(347,yy,e4Circs[i],{size:8.5}));
leader(302,567,345,580);

circ(502,488,26,VC.gray); circ(528,488,27,VC.blue); circ(515,510,26,VC.purple);
nums(e5Counts,[[490,483],[516,479],[539,483],[515,497],[497,506],[532,506],[515,522]]);
[VC.gray,VC.blue,VC.purple].forEach((c,i)=>{swatch(558,[468,479,490][i],c); rich(573,[471.5,482.5,493.5][i],[[e5Legend[i][0],true],[e5Legend[i][1],false]],8.5);});
txt(564,503,e5Circs[0],{size:8.5});
leader(520,479,562,499);
</script></body></html>
